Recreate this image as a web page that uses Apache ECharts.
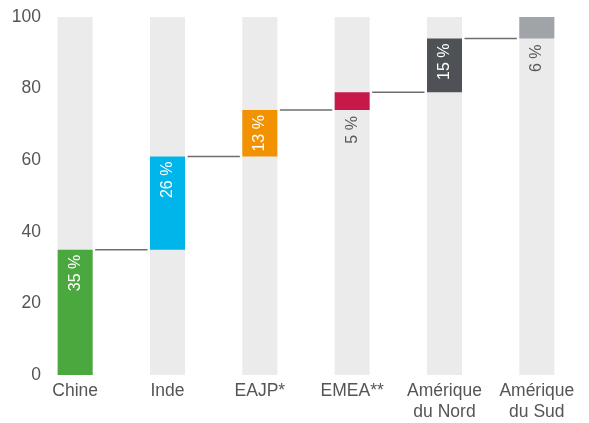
<!DOCTYPE html>
<html>
<head>
<meta charset="utf-8">
<script src="https://cdn.jsdelivr.net/npm/echarts@6/dist/echarts.min.js"></script>
<style>
html,body{margin:0;padding:0;background:#fff;}
#chart{width:589px;height:423px;}
</style>
</head>
<body>
<div id="chart"></div>
<script>
var categories = ['Chine', 'Inde', 'EAJP*', 'EMEA**', 'Amérique\ndu Nord', 'Amérique\ndu Sud'];
var shares = [35, 26, 13, 5, 15, 6];
var totalValue = 100;
var yTicks = [0, 20, 40, 60, 80, 100];

var barColors = ['#4ba83f', '#00b5ea', '#f39200', '#c8184a', '#4e5256', '#a0a3a7'];
var labelOutside = [false, false, false, true, false, true];

var bases = [];
var acc = 0;
for (var i = 0; i < shares.length; i++) { bases.push(acc); acc += shares[i]; }
var tops = bases.map(function (b, i) { return b + shares[i]; });

var FONT = 'Liberation Sans, Arial, sans-serif';

var valueData = shares.map(function (v, i) {
  var outside = labelOutside[i];
  return {
    value: v,
    itemStyle: { color: barColors[i] },
    label: {
      show: true,
      position: outside ? 'bottom' : 'insideTop',
      distance: outside ? 6 : 5,
      rotate: 90,
      align: 'right',
      verticalAlign: 'middle',
      color: outside ? '#5a5a5a' : '#ffffff',
      textBorderWidth: 0,
      textBorderColor: 'transparent',
      fontWeight: 'normal',
      fontSize: 16,
      fontFamily: FONT,
      formatter: v + ' %'
    }
  };
});

var connectorData = [];
for (var j = 0; j < categories.length - 1; j++) connectorData.push([j, tops[j]]);

var chart = echarts.init(document.getElementById('chart'));
chart.setOption({
  animation: false,
  grid: { left: 29, right: 6, top: 17, bottom: 46 },
  xAxis: {
    type: 'category',
    data: categories,
    axisLine: { show: false },
    axisTick: { show: false },
    axisLabel: { color: '#555', fontSize: 17.5, fontFamily: FONT, margin: 6, lineHeight: 21, interval: 0 }
  },
  yAxis: {
    type: 'value',
    min: 0, max: 100, interval: 20,
    splitLine: { show: false },
    axisLine: { show: false },
    axisTick: { show: false },
    axisLabel: { color: '#555', fontSize: 17.5, fontFamily: FONT, margin: -12,
      formatter: function (v) { return yTicks.indexOf(v) >= 0 ? String(v) : ''; } }
  },
  series: [
    {
      type: 'bar', barWidth: 35, barGap: '-100%', silent: true,
      data: categories.map(function () { return totalValue; }),
      itemStyle: { color: '#ebebeb' }, z: 1
    },
    {
      type: 'bar', stack: 'w', barWidth: 35, barGap: '-100%', silent: true,
      data: bases, itemStyle: { color: 'rgba(0,0,0,0)' }, z: 2
    },
    {
      type: 'bar', stack: 'w', barWidth: 35, barGap: '-100%',
      data: valueData, z: 3
    },
    {
      type: 'custom', z: 4, silent: true,
      data: connectorData,
      renderItem: function (params, api) {
        var idx = api.value(0);
        var p0 = api.coord([idx, api.value(1)]);
        var p1 = api.coord([idx + 1, api.value(1)]);
        var half = 17.5;
        return {
          type: 'line',
          shape: { x1: p0[0] + half + 2.5, y1: p0[1], x2: p1[0] - half - 2.5, y2: p1[1] },
          style: { stroke: '#6e6e6e', lineWidth: 1.5 }
        };
      }
    }
  ]
});
</script>
</body>
</html>
